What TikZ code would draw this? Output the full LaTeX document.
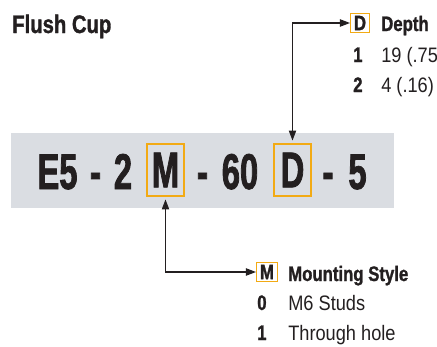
\documentclass[tikz,border=0pt]{standalone}
\usepackage{fontspec}
\setmainfont{Liberation Sans}[UprightFeatures={FakeStretch=0.87}, BoldFeatures={FakeStretch=0.8, FakeBold=1.2}]
\newfontfamily\codefont{Liberation Sans}[FakeStretch=0.65, BoldFeatures={FakeBold=1.5}]
\usetikzlibrary{arrows.meta}

\definecolor{bandgray}{RGB}{218,221,226}
\definecolor{keyorange}{RGB}{242,170,20}
\definecolor{inkblack}{RGB}{35,31,32}

\tikzset{
  bigpart/.style={anchor=base, inner sep=0pt,
    font=\codefont\fontsize{37.7}{40}\selectfont\bfseries},
  codebox/.style={draw=keyorange, line width=1.2pt, inner sep=0pt,
    minimum width=27.5pt, minimum height=39pt,
    font=\codefont\fontsize{37.7}{40}\selectfont\bfseries},
  keybox/.style={draw=keyorange, line width=1pt, anchor=west,
    inner xsep=2.5pt, inner ysep=1pt, minimum height=14pt,
    font=\fontsize{15.7}{18}\selectfont\bfseries},
  heading/.style={anchor=base west, inner sep=0pt,
    font=\fontsize{15.7}{18}\selectfont\bfseries},
  option/.style={anchor=base west, inner sep=0pt,
    font=\fontsize{15.7}{18}\selectfont},
  link/.style={inkblack, line width=0.8pt, shorten <=2pt,
    {Triangle[length=7.5pt,width=5.5pt]}-{Triangle[length=7.5pt,width=5.5pt]}}
}

\begin{document}
\begin{tikzpicture}[x=0.75pt, y=-0.75pt, text=inkblack]

    % Page frame (pixel grid of the reference, y downwards)
    \useasboundingbox (0,0) rectangle (437,347);

    % Title
    \node[heading, font=\fontsize{19}{22}\selectfont\bfseries] (title) at (12,33) {Flush Cup};

    % Gray band behind the part number
    \fill[bandgray] (11,133) rectangle (394,208);

    % Fixed parts of the part number
    \foreach \x/\t [count=\i] in {57.5/E5, 95.5/-, 123/2, 202.5/-, 240/60, 328/-, 357.5/5} {
        \node[bigpart] (part\i) at (\x,189) {\t};
    }

    % Variable parts, boxed
    \node[codebox] (mcode) at (165.5,170) {M};
    \node[codebox] (dcode) at (292.5,170) {D};

    % Depth key
    \node[keybox] (dkey) at (350,23) {D};
    \node[heading] (dhead) at (381,31) {Depth};
    \foreach \y/\n/\t in {62/1/{19 (.75}, 92/2/{4 (.16)}} {
        \node[heading] (dnum\n) at (353,\y) {\n};
        \node[option] (dval\n) at (381,\y) {\t};
    }

    % Mounting style key
    \node[keybox] (mkey) at (256,272) {M};
    \node[heading] (mhead) at (288,281) {Mounting Style};
    \foreach \y/\n/\t in {310/0/M6 Studs, 340/1/Through hole} {
        \node[heading] (mnum\n) at (257,\y) {\n};
        \node[option] (mval\n) at (288,\y) {\t};
    }

    % Leaders from the boxed letters to their keys
    \draw[link] (dcode.north) |- (dkey.west);
    \draw[link] (mcode.south) |- (mkey.west);

\end{tikzpicture}
\end{document}
